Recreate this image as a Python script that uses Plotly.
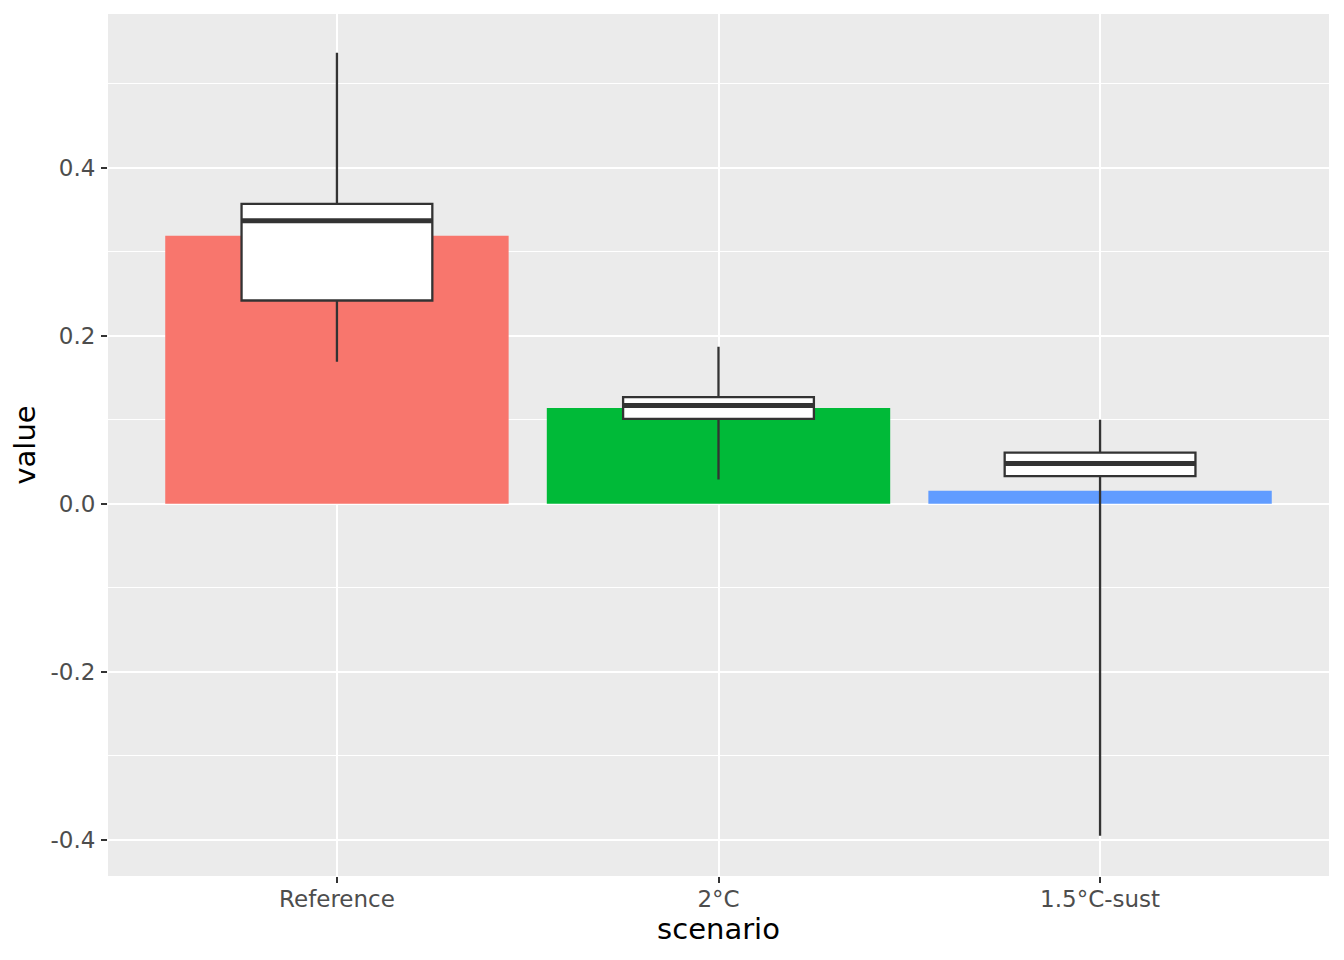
import plotly.graph_objects as go

# scenario data
scenarios = ["Reference", "2°C", "1.5°C-sust"]
bar_values = [0.319, 0.114, 0.0155]
bar_colors = ["#F8766D", "#00BA38", "#619CFF"]

box_upper = [0.537, 0.187, 0.100]
box_q3 = [0.357, 0.127, 0.061]
box_median = [0.337, 0.117, 0.048]
box_q1 = [0.242, 0.101, 0.033]
box_lower = [0.169, 0.029, -0.395]

y_ticks = [-0.4, -0.2, 0.0, 0.2, 0.4]
y_ticklabels = ["-0.4", "-0.2", "0.0", "0.2", "0.4"]

xpos = list(range(len(scenarios)))

fig = go.Figure()

fig.add_trace(go.Bar(
    x=xpos, y=bar_values, width=0.9,
    marker=dict(color=bar_colors, line=dict(width=0)),
    showlegend=False,
))

for i in xpos:
    fig.add_trace(go.Box(
        x=[i], q1=[box_q1[i]], median=[box_median[i]], q3=[box_q3[i]],
        lowerfence=[box_lower[i]], upperfence=[box_upper[i]],
        width=0.5, whiskerwidth=0,
        fillcolor="white", line=dict(color="#333333", width=2.3),
        showlegend=False, boxpoints=False,
    ))
    # thicker median, like ggplot
    fig.add_trace(go.Scatter(
        x=[i - 0.25, i + 0.25], y=[box_median[i], box_median[i]],
        mode="lines", line=dict(color="#333333", width=5),
        showlegend=False, hoverinfo="skip",
    ))

# page body has an 8px margin, so margins are shifted by that
fig.update_layout(
    width=1344, height=960,
    margin=dict(l=100, r=23, t=6, b=92),
    paper_bgcolor="white", plot_bgcolor="#EBEBEB",
    font=dict(family="DejaVu Sans", size=23, color="#4D4D4D"),
    barmode="overlay",
)

fig.update_xaxes(
    range=[-0.6, 2.6], tickvals=xpos, ticktext=scenarios,
    showgrid=True, gridcolor="white", gridwidth=2.2, zeroline=False,
    ticks="outside", ticklen=6, tickwidth=2, tickcolor="#333333",
    ticklabelstandoff=-4, automargin=False,
    title=dict(text="scenario", font=dict(size=29, color="black"), standoff=4),
)
fig.update_yaxes(
    range=[-0.443, 0.583], tickvals=y_ticks, ticktext=y_ticklabels,
    showgrid=True, gridcolor="white", gridwidth=2.2, zeroline=False,
    minor=dict(dtick=0.1, tick0=0, showgrid=True, gridcolor="white", gridwidth=1.1, ticks=""),
    ticks="outside", ticklen=6, tickwidth=2, tickcolor="#333333",
    ticklabelstandoff=1, automargin=False,
    title=dict(text="value", font=dict(size=29, color="black"), standoff=8),
)

fig.write_html("out.html")
